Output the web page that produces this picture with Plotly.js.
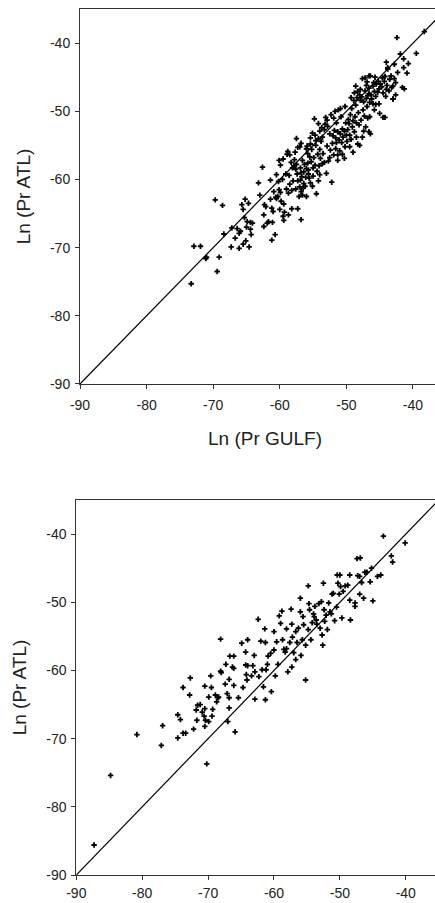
<!DOCTYPE html>
<html>
<head>
<meta charset="utf-8">
<script src="https://cdn.plot.ly/plotly-3.0.1.min.js"></script>
<style>
html,body{margin:0;padding:0;overflow:hidden;background:#fff;}
#chart{width:450px;height:903px;}
</style>
</head>
<body>
<div id="chart"></div>
<script>
// Top panel: Ln(Pr GULF) vs Ln(Pr ATL)
const topGulf = [
-73.3,-72.9,-71.9,-71.1,-71.0,-69.4,-69.1,-69.7,-68.6,-68.4,-67.2,-67.3,-66.7,-66.1,-65.9,-65.5,-65.1,-64.6,-65.7,-65.5,-65.2,-64.7,-65.3,-64.9,-64.4,-64.1,-64.4,-64.3,-65.0,-66.1,-66.4,
-63.2,-62.6,-62.3,-62.1,-62.4,-62.4,-61.7,-61.9,-61.1,-61.2,-60.7,-61.2,-60.6,-60.5,-60.3,-60.9,-60.1,-59.9,-60.5,-60.1,-59.5,-59.8,-59.4,-59.3,-59.5,-59.4,-58.7,-58.2,-58.7,-59.0,-58.2,-58.6,-59.1,-58.9,-58.5,-58.3,-57.7,-57.6,-57.9,-58.1,-57.3,-57.0,-57.1,-57.3,-56.8,-56.6,-56.4,-56.2,-56.9,-56.8,-57.4,-57.3,-56.8,-56.0,-56.5,-56.1,-56.0,-56.3,-56.6,-55.8,-55.5,-55.2,-55.9,-55.6,-55.4,-55.1,-55.0,-55.0,-54.7,-54.4,-54.5,-54.2,-54.0,-54.3,-54.0,-54.6,-54.8,-54.7,-54.2,-53.8,-53.6,-53.5,-53.3,-53.0,-52.2,-52.7,-52.9,-52.8,-53.3,-52.5,-52.1,-52.4,-51.9,-51.6,-51.3,-51.5,-51.3,-51.8,-51.5,-51.7,-51.2,-50.8,-50.6,-50.5,-50.7,-50.2,-50.6,-51.0,-50.0,-49.8,-49.5,-49.9,-49.3,-49.6,-49.1,-48.8,-48.5,-48.3,-48.7,-48.6,-48.2,-48.6,-48.3,-47.6,-47.2,-46.4,-47.9,-47.5,-47.3,-47.1,-47.4,-46.6,-46.4,-46.8,-46.5,-46.9,-46.5,-46.2,-46.8,-47.2,-47.0,-46.6,-46.0,-45.8,-45.6,-45.3,-45.5,-45.2,-44.9,-44.6,-44.2,-44.5,-44.1,-43.9,-43.5,-43.0,-42.6,-43.3,-43.8,-45.7,-45.1,-45.8,-45.0,-44.2,-43.0,-42.6,
-42.4,-38.3,-39.5,-41.9,-41.4,-40.7,-41.4,-40.9,-42.3,-41.6,-41.3,-43.0,-44.5,-44.0,-42.8,-43.8,-46.6,
-57.8,-57.5,-56.9,-56.4,-55.7,-55.3,-54.9,-55.8,-56.0,-55.4,-54.6,-55.1,-54.0,-53.7,-53.2,-52.9,-53.9,-53.6,-54.1,-55.7,-56.7,-57.0,-57.6,-58.0,-58.5,-59.6,-60.2,-61.4,-61.0,-60.0,-63.0,
-52.0,-51.6,-51.1,-50.9,-50.3,-50.1,-49.7,-49.4,-49.0,-49.2,-48.9,-48.4,-48.0,-47.7,-47.4,-47.0,-46.6,-46.3,-46.0,-45.6,-47.8,-48.1,-48.5,-47.6,-49.5,-50.3,-51.3,-52.5,-49.0,-48.0,
-45.1,-44.7,-44.0,-43.6,-43.2,-42.8,-44.3,-45.9,-46.9,-47.9,-48.8,-49.3,-50.2,-50.9,-51.9,-52.3,-53.1,-54.2,-55.4,-56.8,-57.5,-58.8,-59.9,-61.4
];
const topAtl = [
-75.3,-69.8,-69.8,-71.6,-71.4,-73.5,-71.4,-63.0,-63.8,-68.0,-67.1,-69.9,-68.6,-70.1,-67.6,-69.5,-69.0,-69.9,-63.7,-64.4,-62.9,-63.5,-65.6,-66.2,-66.3,-66.4,-67.3,-68.1,-67.0,-67.9,-67.2,
-60.5,-58.2,-63.7,-64.0,-65.2,-66.9,-66.2,-66.4,-66.3,-68.9,-68.1,-64.2,-62.6,-62.8,-62.5,-61.8,-61.5,-61.9,-59.3,-57.2,-57.0,-63.2,-63.6,-64.8,-65.4,-66.0,-65.2,-64.3,-62.0,-61.4,-61.6,-59.4,-59.2,-56.3,-56.4,-57.5,-56.0,-58.5,-58.0,-58.3,-55.3,-55.2,-62.5,-64.3,-65.9,-62.3,-60.6,-61.0,-60.1,-59.0,-59.2,-60.2,-61.8,-62.5,-61.3,-59.7,-58.4,-57.8,-57.2,-57.6,-56.7,-55.6,-55.1,-59.8,-60.5,-61.0,-59.5,-58.3,-57.9,-58.8,-62.1,-60.2,-59.3,-56.3,-55.6,-55.0,-51.1,-53.5,-54.0,-54.4,-53.8,-56.2,-57.5,-59.1,-60.4,-57.3,-55.1,-52.2,-52.7,-53.3,-54.7,-55.7,-56.4,-55.5,-56.4,-54.6,-53.0,-52.8,-51.7,-50.0,-49.8,-50.8,-52.6,-53.8,-54.6,-55.2,-56.3,-55.8,-53.5,-52.7,-53.5,-54.4,-54.1,-51.8,-52.3,-53.0,-53.8,-54.8,-50.8,-49.1,-50.2,-46.3,-47.1,-45.2,-45.1,-44.8,-48.4,-49.8,-50.7,-52.3,-52.9,-53.0,-53.3,-51.0,-50.8,-49.3,-48.7,-48.2,-47.7,-47.0,-46.2,-46.6,-46.3,-47.1,-47.8,-47.2,-46.0,-45.6,-46.0,-45.1,-44.9,-47.3,-47.8,-46.2,-45.3,-46.3,-45.8,-44.8,-43.6,-45.0,-48.9,-49.8,-50.3,-50.9,-48.2,-47.6,
-39.2,-38.3,-41.5,-41.6,-42.3,-43.0,-43.6,-44.4,-44.3,-46.5,-46.7,-48.2,-50.9,-42.8,-43.1,-43.8,-44.8,
-57.1,-57.8,-58.3,-58.9,-58.6,-57.4,-56.8,-56.2,-55.5,-54.8,-54.3,-53.2,-52.9,-52.4,-51.9,-51.3,-56.9,-57.7,-58.0,-59.2,-59.6,-61.1,-61.4,-60.2,-60.7,-60.0,-60.3,-62.9,-64.7,-64.4,-62.3,
-53.6,-53.9,-54.2,-53.3,-52.9,-51.7,-51.2,-50.5,-51.4,-49.6,-48.4,-48.0,-47.6,-47.9,-48.6,-48.1,-47.4,-47.6,-48.9,-49.0,-51.3,-52.0,-51.7,-53.8,-55.2,-56.9,-57.2,-56.8,-56.0,-55.0,
-46.7,-46.4,-46.8,-47.0,-46.5,-45.2,-45.6,-45.8,-45.7,-46.8,-47.3,-48.0,-49.3,-49.6,-51.0,-50.5,-50.9,-51.8,-53.9,-54.7,-54.0,-55.9,-57.9,-60.1
];

// Bottom panel
const botGulf = [
-87.3,-84.8,-80.8,-76.9,-77.1,-74.6,-74.2,-74.6,-73.8,-73.4,-73.8,-72.7,-72.8,-72.2,-71.8,-71.7,-71.6,-71.2,-70.9,-70.6,-70.5,-70.5,-70.4,-70.5,-70.2,-69.9,-69.9,-69.6,-69.5,-69.3,-69.4,-68.9,-68.7,-68.5,-68.4,-68.1,-68.1,-68.0,-67.3,-67.4,-67.1,-67.0,-66.8,-66.8,-66.8,-66.7,-66.3,-66.1,-66.1,-66.1,-65.9,-65.4,-64.9,-64.7,-64.3,-64.3,-64.2,-64.1,-64.0,-64.0,-63.4,-63.2,-63.0,-62.9,-62.9,-62.4,-62.3,-62.0,-61.8,-61.6,-61.4,-61.3,-61.3,-61.2,-61.0,-60.9,-60.5,-60.4,-60.0,-60.0,-59.8,-59.6,-59.4,-59.2,-59.0,-58.8,-58.7,-58.5,-58.3,-58.1,-58.1,-57.9,-57.6,-57.4,-57.3,-57.3,-57.2,-57.0,-56.7,-56.7,-56.5,-56.3,-56.0,-56.0,-55.9,-55.7,-55.6,-55.5,-55.2,-55.2,-54.8,-54.8,-54.7,-54.6,-54.4,-54.2,-54.0,-53.9,-53.8,-53.6,-53.5,-53.2,-53.0,-52.8,-52.7,-52.6,-52.5,-52.4,-52.3,-52.1,-51.9,-51.7,-51.5,-51.3,-51.2,-51.0,-50.8,-50.5,-50.4,-50.1,-50.0,-50.3,-49.9,-49.7,-49.5,-49.2,-48.8,-48.5,-48.4,-48.5,-47.7,-47.7,-47.4,-46.9,-47.3,-47.0,-47.0,-46.7,-46.4,-46.2,-45.9,-45.4,-45.2,-45.0,-44.3,-43.8,-43.4,-42.2,-42.0,-40.1
];
const botAtl = [
-85.6,-75.4,-69.4,-68.1,-71.0,-66.5,-67.2,-69.9,-69.2,-69.2,-62.5,-61.1,-63.6,-68.6,-65.8,-67.3,-65.1,-65.0,-66.1,-66.7,-65.6,-62.3,-67.3,-68.2,-73.7,-67.5,-63.9,-60.8,-62.5,-65.7,-66.7,-63.6,-64.6,-64.0,-63.9,-55.4,-60.1,-60.3,-59.1,-62.0,-63.4,-67.5,-61.3,-64.0,-65.5,-57.9,-59.5,-57.9,-62.2,-59.7,-69.0,-64.0,-56.0,-62.5,-57.3,-59.2,-60.6,-61.4,-55.5,-59.3,-60.8,-59.3,-57.8,-64.2,-60.2,-52.5,-60.9,-55.7,-59.9,-62.4,-53.9,-55.9,-64.3,-59.9,-59.1,-57.9,-57.5,-63.1,-54.3,-57.0,-60.8,-55.8,-59.1,-52.0,-53.1,-51.3,-55.5,-56.9,-57.3,-53.9,-56.8,-60.2,-55.9,-51.0,-53.2,-59.5,-55.1,-57.4,-58.4,-54.3,-55.9,-53.8,-49.4,-51.4,-57.8,-55.5,-52.1,-53.3,-56.3,-61.4,-47.6,-54.0,-50.2,-51.1,-55.5,-53.0,-51.7,-52.1,-50.6,-52.6,-53.2,-50.2,-53.8,-49.9,-54.8,-56.3,-47.2,-51.1,-52.8,-51.9,-54.0,-50.1,-51.4,-51.7,-48.8,-48.7,-52.7,-50.7,-46.0,-48.8,-46.0,-47.2,-47.7,-52.3,-48.4,-47.6,-47.5,-46.0,-52.6,-49.7,-50.1,-50.6,-43.6,-43.5,-46.1,-46.2,-48.8,-47.1,-49.4,-45.6,-45.6,-47.0,-45.0,-49.8,-46.2,-46.0,-40.3,-43.2,-44.1,-41.3
];

// Reference line y = x
const identityLine = [-90, -30];
const tickVals = [-90, -80, -70, -60, -50, -40];
const tickText = ["-90", "-80", "-70", "-60", "-50", "-40"];

const markerStyle = {symbol: 'cross', size: 4.5, color: '#000', line: {width: 0}};
const lineStyle = {color: '#000', width: 1.2};

const traces = [
  {x: identityLine, y: identityLine, xaxis: 'x', yaxis: 'y', mode: 'lines', line: lineStyle, hoverinfo: 'skip'},
  {x: topGulf, y: topAtl, xaxis: 'x', yaxis: 'y', mode: 'markers', marker: markerStyle},
  {x: identityLine, y: identityLine, xaxis: 'x2', yaxis: 'y2', mode: 'lines', line: lineStyle, hoverinfo: 'skip'},
  {x: botGulf, y: botAtl, xaxis: 'x2', yaxis: 'y2', mode: 'markers', marker: markerStyle}
];

const tickFont = {family: 'Liberation Sans, Arial, sans-serif', size: 14, color: '#222'};
const titleFont = {family: 'Liberation Sans, Arial, sans-serif', size: 19, color: '#222'};

function axisBase(extra) {
  return Object.assign({
    showgrid: false, zeroline: false,
    showline: true, mirror: true, linecolor: '#333', linewidth: 1,
    ticks: 'outside', ticklen: 4, tickcolor: '#333', tickwidth: 1,
    tickvals: tickVals, ticktext: tickText,
    tickfont: tickFont, automargin: false, fixedrange: true
  }, extra);
}

const layout = {
  width: 450, height: 903,
  margin: {l: 0, r: 0, t: 0, b: 0},
  paper_bgcolor: '#fff', plot_bgcolor: '#fff',
  showlegend: false,
  xaxis: axisBase({domain: [80/450, 1], range: [-90, -34.44], anchor: 'y', ticklabelstandoff: 4,
    title: {text: 'Ln (Pr GULF)', font: titleFont, standoff: 19}}),
  yaxis: axisBase({domain: [0.5748, 0.9900], range: [-90, -35], anchor: 'x', ticklabelstandoff: 2,
    title: {text: 'Ln (Pr ATL)', font: titleFont, standoff: 14}}),
  xaxis2: axisBase({domain: [76.3/450, 1], range: [-90, -33.29], anchor: 'y2', ticklabelstandoff: 1}),
  yaxis2: axisBase({domain: [0.0310, 0.4463], range: [-90, -35], anchor: 'x2', ticklabelstandoff: 2,
    title: {text: 'Ln (Pr ATL)', font: titleFont, standoff: 14}})
};

Plotly.newPlot('chart', traces, layout, {staticPlot: true, displayModeBar: false});
</script>
</body>
</html>
